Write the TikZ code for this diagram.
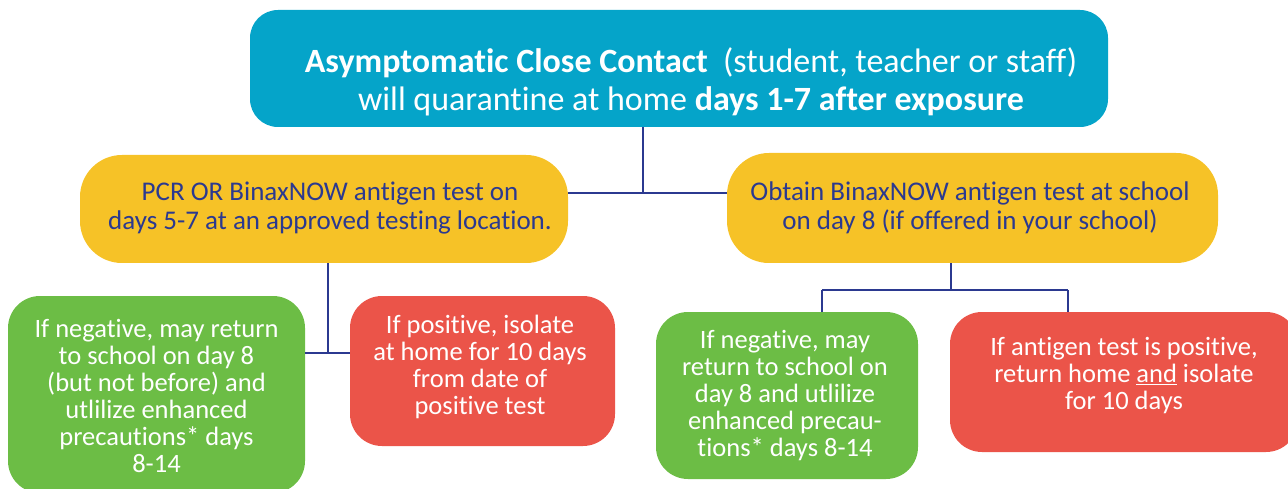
\documentclass[tikz,border=0pt]{standalone}
\usepackage{fontspec}
\setmainfont{Carlito}[Ligatures=NoCommon]
\usetikzlibrary{calc}
\definecolor{cblue}{HTML}{05A4C9}
\definecolor{cyellow}{HTML}{F6C227}
\definecolor{cgreen}{HTML}{6CBD45}
\definecolor{cred}{HTML}{EB5449}
\definecolor{cnavy}{HTML}{2B3990}
\tikzset{
  box/.style={inner sep=0pt},
  txt/.style={inner sep=0pt, align=center},
  lowtxt/.style={txt, text=white, font=\fontsize{26.5}{27}\selectfont},
  link/.style={draw=cnavy, line width=2.4pt},
}
\begin{document}
\begin{tikzpicture}[x=1pt,y=-1pt]
\useasboundingbox (0,0) rectangle (1288,489);
% boxes
\node[box, rounded corners=28pt, fill=cblue, minimum width=858pt, minimum height=117pt] (top) at (679,68.5) {};
\node[box, rounded corners=42pt, fill=cyellow, minimum width=488pt, minimum height=108pt] (y1) at (324,209) {};
\node[box, rounded corners=42pt, fill=cyellow, minimum width=491pt, minimum height=110pt] (y2) at (972.5,208) {};
\node[box, rounded corners=32pt, fill=cgreen, minimum width=297pt, minimum height=197pt] (g1) at (156.5,394.5) {};
\node[box, rounded corners=32pt, fill=cred, minimum width=265pt, minimum height=150pt] (r1) at (482.5,371) {};
\node[box, rounded corners=32pt, fill=cgreen, minimum width=262pt, minimum height=167pt] (g2) at (787,395.5) {};
\node[box, rounded corners=32pt, fill=cred, minimum width=348pt, minimum height=140pt] (r2) at (1124,382) {};
% texts
\node[txt, text=white, font=\fontsize{34}{38}\selectfont] (topt) at (691,82)
  {\textbf{Asymptomatic Close Contact}\ \ (student, teacher or staff)\\
   will quarantine at home \textbf{days 1-7 after exposure}};
\node[txt, text=cnavy, font=\fontsize{27}{29}\selectfont] (y1t) at (330,208)
  {PCR OR BinaxNOW antigen test on\\ days 5-7 at an approved testing location.};
\node[txt, text=cnavy, font=\fontsize{27}{29}\selectfont] (y2t) at (970,208)
  {Obtain BinaxNOW antigen test at school\\ on day 8 (if offered in your school)};
\node[lowtxt] (g1t) at (156.5,396)
  {If negative, may return\\ to school on day 8\\ (but not before) and\\ utlilize enhanced\\ precautions* days\\ 8-14};
\node[lowtxt] (r1t) at (480,367)
  {If positive, isolate\\ at home for 10 days\\ from date of\\ positive test};
\node[lowtxt] (g2t) at (785,396)
  {If negative, may\\ return to school on\\ day 8 and utlilize\\ enhanced precau-\\ tions* days 8-14};
\node[lowtxt] (r2t) at (1124,376)
  {If antigen test is positive,\\ return home \underline{and} isolate\\ for 10 days};
% connectors
\coordinate (j1) at (643,193);
\coordinate (j2) at (328,353);
\coordinate (j3) at (951,290);
\coordinate (j3l) at (822,290);
\coordinate (j3r) at (1068,290);
\draw[link] (top.south -| j1) -- (j1);
\draw[link] (y1.east |- j1) -- (y2.west |- j1);
\draw[link] (y1.south -| j2) -- (j2);
\draw[link] (g1.east |- j2) -- (r1.west |- j2);
\draw[link] (y2.south -| j3) -- (j3);
\draw[link] (j3l) -- (j3r);
\draw[link] (j3l) -- (g2.north -| j3l);
\draw[link] (j3r) -- (r2.north -| j3r);
\end{tikzpicture}
\end{document}
